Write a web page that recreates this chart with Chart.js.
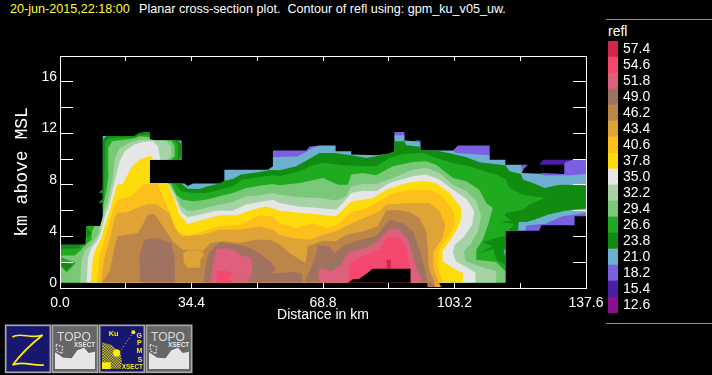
<!DOCTYPE html>
<html>
<head>
<meta charset="utf-8">
<title>Planar cross-section plot</title>
<script src="https://cdn.jsdelivr.net/npm/chart.js@4"></script>
<style>
html, body { margin: 0; padding: 0; background: #000; overflow: hidden; }
canvas, .txt, .rule, svg { position: absolute; display: block; }
.txt { white-space: pre; font-family: "Liberation Sans", sans-serif; font-size: 12.6px; line-height: 14px; color: #fff; }
.rule { left: 606px; width: 106px; height: 1px; background: #8a8a8a; }
</style>
</head>
<body>
<div class="txt" style="left:10px;top:2px;color:#ffff33">20-jun-2015,22:18:00</div>
<div class="txt" style="left:139px;top:2px">Planar cross-section plot.  Contour of refl using: gpm_ku_v05_uw.</div>
<div class="rule" style="top:19px"></div>
<div class="rule" style="top:323px"></div>
<div class="txt" style="left:608px;top:24px;font-size:14px">refl</div>
<canvas id="section" width="712" height="375" style="left:0;top:0"></canvas>
<canvas id="scale" width="60" height="272" style="left:608px;top:41px"></canvas>

<svg width="200" height="60" viewBox="0 0 600 180" style="left:0;top:315px">
  <defs>
    <pattern id="chk" width="8" height="8" patternUnits="userSpaceOnUse">
      <rect width="4" height="4" fill="#ffee00"/><rect x="4" y="4" width="4" height="4" fill="#ffee00"/>
    </pattern>
    <g id="topo">
      <rect x="157" y="31" width="136" height="141" fill="#666" stroke="#a8a8a8" stroke-width="5"/>
      <polygon points="165,162 165,112 190,128 215,130 232,106 252,98 266,114 285,110 285,162" fill="#e6e6e6"/>
      <text x="222" y="78" text-anchor="middle" font-family="Liberation Sans" font-size="36" fill="#dcdcdc">TOPO</text>
      <text x="254" y="96" text-anchor="middle" font-family="Liberation Sans" font-weight="bold" font-size="19" fill="#e8e8e8">XSECT</text>
      <polygon points="168,88 188,96 186,116 170,108" fill="none" stroke="#dcdcdc" stroke-width="4" stroke-dasharray="5 4"/>
    </g>
  </defs>
  <rect x="17" y="31" width="134" height="141" fill="#17176e" stroke="#a8a8a8" stroke-width="5"/>
  <path d="M37 66 C60 50 95 74 128 60 C100 82 62 118 38 150 C65 136 100 154 132 150" fill="none" stroke="#ffee00" stroke-width="5"/>
  <use href="#topo"/>
  <rect x="299" y="31" width="134" height="141" fill="#17176e" stroke="#a8a8a8" stroke-width="5"/>
  <polygon points="306,160 306,82 336,90 362,118 366,140 362,162" fill="url(#chk)"/>
  <circle cx="350" cy="114" r="11" fill="#ffee00"/>
  <rect x="306" y="142" width="26" height="20" fill="#ffee00"/>
  <path d="M358 112 L400 52" stroke="#ffee00" stroke-width="3" stroke-dasharray="3 7"/>
  <circle cx="400" cy="52" r="6" fill="#ffee00"/>
  <text x="326" y="63" font-family="Liberation Sans" font-weight="bold" font-size="22" fill="#ffee00">Ku</text>
  <g font-family="Liberation Sans" font-weight="bold" font-size="21" fill="#ffee00" text-anchor="middle">
    <text x="418" y="70">G</text><text x="418" y="91">P</text><text x="418" y="113">M</text><text x="420" y="141">S</text>
  </g>
  <text x="397" y="162" text-anchor="middle" font-family="Liberation Sans" font-weight="bold" font-size="19" fill="#ffee00">XSECT</text>
  <use href="#topo" x="282"/>
</svg>

<script>
// tick positions, km
const distanceTicks = [0, 17.2, 34.4, 51.6, 68.8, 86, 103.2, 120.4, 137.6];
const distanceLabels = [0, 34.4, 68.8, 103.2, 137.6];
const heightTicks = [0, 2, 4, 6, 8, 10, 12, 14, 16];
const heightLabels = [0, 4, 8, 12, 16];

// colour table, top to bottom
const legendValues = [57.4, 54.6, 51.8, 49.0, 46.2, 43.4, 40.6, 37.8, 35.0, 32.2, 29.4, 26.6, 23.8, 21.0, 18.2, 15.4, 12.6];
const legendColors = ['#d1264d', '#f5486f', '#de607c', '#a07260', '#bc8649', '#e0a436', '#fdbf1a', '#fedc0c', '#e6e6e6',
  '#a6d3a6', '#78c878', '#20aa20', '#108c10', '#6eb0d0', '#7b60e2', '#4b1fa0', '#8b108f'];

// contour areas as [km along track, km MSL]
const refl15 = [
  [[125.3,9.57],[126.4,9.96],[134.2,9.96],[131.9,9.7],[131.9,9.57]]
];
const refl18 = [
  [[55.7,10.66],[64.4,10.66],[65.3,10.97],[67.9,11.05],[67.9,10.35],[55.7,9.96]],
  [[87.5,12.11],[90.1,12.11],[90.1,11.64],[87.5,11.64]],
  [[93,11.44],[94.3,11.44],[94.3,11.26],[93,11.26]],
  [[102.8,10.66],[104.1,11.05],[112.4,11.05],[112.4,10.22],[102.8,10.35]],
  [[120.6,9.57],[122.4,9.57],[121.1,9.16]],
  [[125.9,8.93],[131.9,8.85],[131.9,9.7],[132.8,9.83],[134.2,9.96],[137.6,9.96],[137.6,8.67],[126.8,8.67]],
  [[137.6,5.95],[137.6,5.56],[134.6,5.56],[134.6,4.86],[125.9,4.86],[125.4,4.45],[121.8,4.45],[121.8,4.91],[126.8,5.04],[131.5,5.69]]
];
const refl21 = [
  [[0.1,0.43],[0.1,3.36],[6.7,3.36],[7,4.81],[10.8,4.81],[11.2,5.04],[11.2,6.6],[10.2,6.6],[11.2,6.93],[11.2,7.37],[10.2,7.42],[11.2,7.63],[11.2,11.8],[19.5,11.8],[20.8,12.03],[23.4,12.11],[23.4,11.44],[31.8,11.44],[31.8,9.96],[23.4,9.96],[23.4,8.1],[32.6,8.1],[33.4,7.92],[34.8,8.1],[43,8.1],[43,9.18],[54.4,9.18],[55.7,9.44],[55.7,10.14],[62.2,10.22],[64.4,10.56],[65.7,10.82],[67.9,11.05],[72.1,11.05],[72.1,10.61],[76.2,10.61],[76.2,10.35],[83.2,10.3],[84,10.35],[86.6,10.35],[87.5,10.56],[87.5,11.85],[90.1,11.85],[90.1,11.44],[93,11.39],[94.3,11.26],[94.3,10.66],[102.8,10.66],[103.6,10.48],[112.4,10.3],[112.4,9.96],[116.5,9.96],[116.5,9.57],[120.6,9.57],[121.1,9.16],[120.8,8.93],[125.9,8.87],[126.8,8.72],[133.7,8.74],[137.6,8.85],[137.6,5.82],[134.2,5.69],[131.5,5.56],[126.8,4.96],[122,4.84],[121.8,4.45],[116.5,4.45],[116.5,0.43]]
];
const refl24 = [
  [[0.1,0.43],[0.1,3.36],[6.7,3.36],[7,4.81],[10.8,4.81],[11.2,5.04],[11.2,6.6],[10.2,6.6],[11.2,6.93],[11.2,7.37],[10.2,7.42],[11.2,7.63],[11.2,11.49],[12.1,11.8],[19.5,11.8],[20.8,12.03],[23.4,12.11],[23.4,11.44],[30.8,11.44],[31.8,11.18],[31.8,10.19],[31.1,9.96],[23.4,9.96],[23.4,8.1],[31.7,8.1],[33.4,7.71],[36.5,7.68],[38.7,7.89],[41.7,8.1],[43,8.33],[45.2,8.46],[47.4,8.8],[52.2,9],[54.8,9.16],[57.4,9.13],[61.8,9.44],[64.8,9.96],[67.9,10.48],[71.8,10.48],[76.2,10.3],[80.1,10.09],[82.7,10.22],[86.2,10.48],[87.5,10.61],[87.5,11.39],[90.1,11.39],[90.6,11.07],[94.3,10.95],[94.3,10.66],[98.4,10.66],[102.8,10.4],[106.3,10.14],[109.7,9.75],[112.4,9.65],[116.5,9.52],[117.6,9.06],[120.6,8.85],[121.1,8.41],[123.7,8.15],[126.8,7.76],[130.7,8.02],[137.6,7.97],[137.6,6.16],[134.2,6.08],[131.5,5.95],[127.6,5.69],[124.1,5.3],[122,5.12],[120,5.12],[119.8,4.45],[116.5,4.45],[116.5,0.43]]
];
const refl27 = [
  [[0.1,0.43],[0.1,3.05],[4.7,3.05],[5.5,3.36],[6.7,3.36],[7,4.81],[10.8,4.81],[11.2,5.04],[11.4,6.73],[11.6,8.54],[11.8,10.09],[11.8,11.39],[12.9,11.64],[19.5,11.7],[20.8,11.85],[23.4,11.9],[23.4,11.44],[30,11.44],[30.8,11.13],[30.8,10.09],[30.4,9.96],[23.4,9.96],[23.4,8.1],[30,8.1],[31.7,7.5],[34.8,7.37],[38.2,7.37],[41.7,7.63],[45.2,7.89],[47.8,8.41],[52.2,8.59],[55.7,8.74],[57.4,8.67],[62.7,9.06],[66.1,9.52],[68.8,9.7],[74.9,9.52],[78.4,9.44],[82.7,9.44],[86.2,10.09],[89.7,10.4],[94.9,10.48],[98.4,10.09],[102.8,9.7],[107.1,9.44],[112.4,8.93],[114.1,8.8],[116.7,8.41],[117.6,7.76],[121.1,7.24],[126.8,6.98],[122.8,6.47],[121.1,6.08],[116.7,5.82],[116.3,5.64],[118,5.22],[115.1,5.12],[118.9,4.96],[117.2,4.45],[116.5,4.45],[116.5,0.43]]
];
const refl29 = [
  [[0.1,0.43],[0.1,2.53],[3.8,2.53],[5.3,2.89],[6.7,3.36],[8.2,3.75],[8.4,4.4],[9,4.81],[10.8,4.81],[11.2,5.04],[11.3,6.47],[12.1,7.5],[12.7,8.8],[12.6,10.87],[13.6,11.39],[19.5,11.59],[20.8,11.77],[23.4,11.7],[23.4,11.44],[29.1,11.44],[30,11],[30,10.22],[29.1,9.96],[23.4,9.96],[23.4,8.1],[29.1,8.1],[30.4,7.24],[32.1,6.85],[34.8,6.73],[38.2,6.85],[41.7,7.11],[45.2,7.37],[48.7,7.76],[52.2,7.94],[55.7,8.07],[57.4,7.97],[62.7,8.15],[68.8,8.54],[72.7,8.02],[75.3,8.02],[76.2,8.8],[79.2,8.93],[82.7,8.74],[87.1,9.44],[92.3,9.78],[95.8,9.83],[98.4,9.57],[102.8,8.54],[106.3,8.28],[109.7,7.63],[111.5,6.6],[113.2,6.21],[112,4.91],[110.6,3.75],[108.9,2.97],[108.9,2.19],[114.1,2.01],[116.5,1.29],[116.5,0.43]]
];
// weaker pockets left inside the stronger echo
const pockets27 = [
  [[0.1,2.4],[4.1,1.95],[1.8,1.2],[0.1,1.7]]
];
const pockets24 = [
  [[7,4.65],[8.2,4.27],[7.3,3.88],[7,3.88]],
  [[0.1,2.07],[3.4,1.81],[1.6,1.37],[0.1,1.81]],
  [[110.4,3.57],[116.5,4.08],[116.5,1.81],[114.1,2.19],[113.4,3.05],[109,2.63],[113.2,3.23]]
];
const pockets21 = [
  [[116,2.97],[116.5,2.97],[116.5,2.4]]
];
const refl32 = [
  [[5.3,0.43],[5.6,2.07],[6.4,2.89],[8.2,3.36],[9.9,4.14],[10.5,4.81],[11.6,5.95],[12.5,6.85],[13.8,8.54],[14.3,10.09],[15.6,10.82],[18.2,11.26],[20.8,11.49],[23.4,11.54],[25.2,11.44],[27.8,11.44],[29.1,10.92],[29.1,10.22],[28.2,9.96],[23.4,9.96],[23.4,8.1],[28.6,8.1],[30,7.37],[31.7,6.34],[33.4,6],[34.8,6],[38.2,6.21],[41.7,6.47],[45.2,6.67],[48.7,7.11],[52.2,7.19],[55.7,7.37],[57.4,7.24],[62.7,7.04],[67.9,6.98],[72.2,6.78],[74.9,7.11],[76.2,7.89],[79.2,8.07],[82.7,8.07],[87.1,8.54],[92.3,9.18],[95.8,9.31],[99.3,8.93],[102.8,8.02],[106.3,7.5],[108.9,6.73],[110.2,5.56],[109.3,4.4],[107.6,3.49],[105.6,2.84],[106.1,2.07],[109.7,1.68],[114.1,1.29],[114.1,0.43]]
];
const refl35 = [
  [[7,0.43],[7.3,2.32],[8.2,3.1],[9.9,3.75],[10.8,4.4],[11.6,5.43],[13,6.6],[14.3,8.28],[15.6,9.83],[16.9,10.61],[19.5,11.13],[21.7,11.33],[24.3,11.39],[25.6,11],[26.3,9.96],[23.4,9.96],[23.4,8.1],[28.2,8.1],[30,7.11],[31.7,5.9],[33.4,5.48],[36.5,5.69],[40.9,6],[45.2,6],[48.7,6.47],[52.2,6.67],[55.7,6.85],[57.4,6.6],[62.7,6.31],[67.9,6.21],[72.2,6.08],[74,6.6],[76.2,7.37],[79.2,7.55],[82.7,7.5],[86.2,8.15],[92.3,8.67],[95.8,8.8],[99.3,8.41],[102.8,7.63],[106.3,6.93],[108.4,5.95],[107.8,4.91],[105.8,4.01],[103.2,3.31],[102.8,2.71],[103.6,2.07],[106.7,1.55],[108.7,1.16],[108.7,0.43]]
];
const refl38 = [
  [[8,0.43],[8.6,2.32],[9.5,3.1],[10.8,3.88],[11.6,4.78],[13,5.95],[13.8,6.85],[14.9,8.02],[16.4,8.07],[17.7,8.8],[18.9,9.44],[20.8,9.96],[23.6,10.27],[24.5,9.96],[23.4,9.96],[23.4,8.1],[28.2,8.1],[30,6.85],[31.3,5.69],[33.4,4.96],[37.4,5.3],[41.7,5.64],[46.1,5.64],[50.4,6.08],[53.9,6.34],[57.4,6],[63.5,5.82],[72.2,5.56],[74,6.08],[76.2,6.73],[79.2,6.85],[81.8,6.98],[85.3,7.63],[90.6,8.15],[94.9,8.33],[98.4,8.15],[101.9,7.37],[105,6.21],[105,5.43],[104.1,4.65],[101.9,3.62],[100.1,2.89],[100.1,2.07],[102.8,1.55],[105.4,1.16],[105.4,0.43]]
];
const refl41 = [
  [[9.7,0.43],[10.3,2.45],[11.2,3.36],[13,5.17],[14.3,6.47],[15.1,6.85],[18.6,7.11],[21.7,8.02],[23.4,8.1],[25.6,8.1],[26.5,7.37],[28.2,6.21],[30.8,4.4],[33.4,4.01],[37.4,4.4],[41.7,4.78],[47,4.91],[52.2,5.64],[55.7,5.56],[57.4,5.04],[61.8,4.65],[66.1,5.04],[69.6,4.65],[72.7,4.91],[76.2,5.9],[79.2,6.08],[82.7,6.6],[87.1,7.37],[92.3,7.63],[96.7,7.63],[100.1,7.11],[103.2,5.82],[103.2,4.91],[101.9,4.14],[99.1,2.97],[98.8,1.81],[100,0.43]]
];
const refl43 = [
  [[10.7,0.43],[11.6,2.32],[13,3.75],[14.3,5.43],[15.1,5.82],[17.7,5.9],[19.9,6.21],[23,6.52],[25.2,6.47],[28.6,5.82],[30,4.65],[31.7,4.01],[37.4,4.14],[41.7,4.52],[47,4.52],[52.2,4.78],[55.7,4.52],[57.4,4.14],[60.9,3.88],[65.3,3.75],[68.8,4.14],[72.2,4.4],[77.5,5.17],[83.6,5.95],[85.3,6.47],[92.3,6.6],[96.7,6.6],[99.3,5.95],[100.8,4.91],[100.1,3.88],[97.7,2.84],[97.7,1.55],[99.1,0.43],[99.7,0.07],[96.2,0.07],[96.2,0.43]]
];
const refl46 = [
  [[11,0.43],[13,1.29],[14.3,3.23],[15.1,4.01],[20.4,4.27],[23,5.69],[24.7,5.74],[27.8,4.4],[29.5,3.62],[32.1,2.97],[37.4,2.89],[39.5,3.49],[42.6,3.62],[47,3.49],[51.3,3.75],[54.8,3.75],[57.4,3.41],[60,2.71],[64.2,1.94],[64.8,3.23],[68.8,3.67],[72.2,3.62],[74.9,4.14],[79.2,4.4],[83.1,4.78],[85.3,6],[87.9,6.08],[91.4,5.9],[94,5.43],[95.8,4.4],[96.2,3.1],[96.5,1.55],[98,0.43],[98,0.07],[96.2,0.07],[96.2,0.43]]
];
const pockets43 = [
  [[32.3,2.71],[33.4,2.89],[36.9,2.89],[37.8,2.58],[36.7,2.19],[36.7,1.6],[33.4,1.55],[32.3,2.07]]
];
const refl49 = [
  [[21,0.43],[20.8,2.58],[22.1,3.75],[25.2,3.88],[29.1,3.49],[30,2.32],[30,0.43]],
  [[37.5,0.43],[38.1,1.68],[38.9,2.71],[41.7,3.57],[45.2,3.41],[48.7,3.23],[52.2,2.71],[54.8,2.07],[56.6,1.5],[55.2,1.11],[60.9,1.24],[63.1,1.16],[63.7,0.43]],
  [[64,0.43],[64.8,1.03],[67,2.58],[67.4,3.31],[70.5,3.23],[71.8,2.71],[74,3.23],[78.4,3.75],[82.7,4.01],[86.2,5.3],[89.7,5.04],[92.3,4.4],[94,3.1],[95.4,1.55],[96.2,0.43],[96.2,0.07],[98,0.07],[97.1,0.43]]
];
const refl52 = [
  [[39.3,0.43],[40,1.81],[40.9,3.05],[43.5,3.1],[46.1,2.89],[47,2.58],[50,2.32],[50.4,1.16],[48.7,0.43]],
  [[67.7,0.43],[67.7,1.55],[71,1.29],[73.6,1.81],[75.3,2.71],[80.1,3.1],[83.1,3.62],[86.2,4.6],[88.8,4.52],[91,3.75],[92.3,2.58],[93.2,1.55],[94.5,0.77],[94.5,0.43]]
];
const refl55 = [
  [[40.9,0.43],[41,1.29],[43.5,1.34],[45.6,1.08],[43.9,0.77],[45.6,0.43]],
  [[75.3,0.43],[76.2,2.07],[79.2,2.45],[83.6,2.97],[85.8,4.01],[88.8,3.88],[90.6,3.1],[91.6,1.55],[91.6,0.43]]
];
const refl57 = [
  [[85.3,2.19],[86.6,2.19],[86.5,1.5],[85.6,1.5]]
];
// no echo cut out of the low levels
const noData = [
  [[75.3,0.4],[76.8,0.69],[78.2,0.69],[80.4,1.16],[81.8,1.5],[91.7,1.5],[91.7,0.4]]
];

// painted in this order, weakest first
const layers = [
  [refl15, legendColors[15]], [refl18, legendColors[14]], [refl21, legendColors[13]], [refl24, legendColors[12]],
  [refl27, legendColors[11]], [refl29, legendColors[10]], [pockets27, legendColors[11]], [pockets24, legendColors[12]],
  [pockets21, legendColors[13]], [refl32, legendColors[9]], [refl35, legendColors[8]], [refl38, legendColors[7]],
  [refl41, legendColors[6]], [refl43, legendColors[5]], [refl46, legendColors[4]], [pockets43, legendColors[5]],
  [refl49, legendColors[3]], [refl52, legendColors[2]], [refl55, legendColors[1]], [refl57, legendColors[0]],
  [noData, '#000']
];

let datasets = [];
layers.forEach(function(layer) {
  layer[0].forEach(function(poly) {
    datasets.push({
      data: poly.map(function(p) { return {x: p[0], y: p[1]}; }),
      showLine: true,
      fill: 'shape',
      backgroundColor: layer[1],
      borderWidth: 0,
      pointRadius: 0,
      tension: 0
    });
  });
});
// first dataset is drawn last by default, so turn that round
datasets.forEach(function(d, i) { d.order = datasets.length - i; });

const labelFont = {family: '"Liberation Sans", sans-serif', size: 14};
const white = '#fff';

function ticksFrom(list) {
  return function(scale) { scale.ticks = list.map(function(v) { return {value: v}; }); };
}
function edgeAxis(position, axis, min, max, list, len) {
  return {
    type: 'linear', position: position, axis: axis, min: min, max: max,
    afterBuildTicks: ticksFrom(list),
    afterFit: function(s) { if (axis === 'x') s.height = 0; else s.width = 0; },
    ticks: {display: false, autoSkip: false},
    border: {display: true, color: white, width: 1, z: 2},
    grid: {drawOnChartArea: false, tickLength: len, tickColor: white, tickWidth: 1, z: 2}
  };
}

new Chart(document.getElementById('section'), {
  type: 'scatter',
  data: {datasets: datasets},
  options: {
    responsive: false,
    animation: false,
    events: [],
    layout: {padding: {top: 56, right: 126, left: 0, bottom: 0}},
    plugins: {legend: {display: false}, tooltip: {enabled: false}},
    scales: {
      x: {
        type: 'linear', position: 'bottom', min: 0, max: 137.6,
        afterBuildTicks: ticksFrom(distanceTicks),
        afterFit: function(s) { s.height = 87; },
        ticks: {
          color: white, font: labelFont, padding: 12, maxRotation: 0, autoSkip: false,
          callback: function(v) { return distanceLabels.includes(v) ? v.toFixed(1) : ''; }
        },
        border: {display: true, color: white, width: 1, z: 2},
        grid: {drawOnChartArea: false, tickLength: -5, tickColor: white, tickWidth: 1, z: 2},
        title: {
          display: true, text: 'Distance in km', color: white,
          font: {family: '"Liberation Sans", sans-serif', size: 14}, padding: {top: 0, bottom: 51}
        }
      },
      y: {
        type: 'linear', position: 'left', min: 0, max: 18,
        afterBuildTicks: ticksFrom(heightTicks),
        afterFit: function(s) { s.width = 60; },
        ticks: {
          color: white, font: labelFont, padding: 16, labelOffset: -5, autoSkip: false,
          callback: function(v) { return heightLabels.includes(v) ? String(v) : ''; }
        },
        border: {display: true, color: white, width: 1, z: 2},
        grid: {drawOnChartArea: false, tickLength: -13, tickColor: white, tickWidth: 1, z: 2},
        title: {
          display: true, text: 'km above MSL', color: white,
          font: {family: '"Liberation Mono", monospace', size: 18}, padding: {top: 11, bottom: 0}
        }
      },
      xTop: edgeAxis('top', 'x', 0, 137.6, distanceTicks, -5),
      yRight: edgeAxis('right', 'y', 0, 18, heightTicks, -13)
    }
  }
});

// colour table on the right
new Chart(document.getElementById('scale'), {
  type: 'bar',
  data: {
    labels: legendValues.map(function(v) { return v.toFixed(1); }),
    datasets: [{data: legendValues.map(function() { return 1; }), backgroundColor: legendColors, barPercentage: 1, categoryPercentage: 1}]
  },
  options: {
    indexAxis: 'y',
    responsive: false,
    animation: false,
    events: [],
    plugins: {legend: {display: false}, tooltip: {enabled: false}},
    scales: {
      x: {display: false, min: 0, max: 1},
      y: {
        position: 'right',
        afterFit: function(s) { s.width = 50; s.paddingTop = 0; s.paddingBottom = 0; },
        grid: {display: false, drawTicks: false},
        border: {display: false},
        ticks: {color: white, font: labelFont, padding: 5, autoSkip: false}
      }
    }
  }
});
</script>
</body>
</html>
